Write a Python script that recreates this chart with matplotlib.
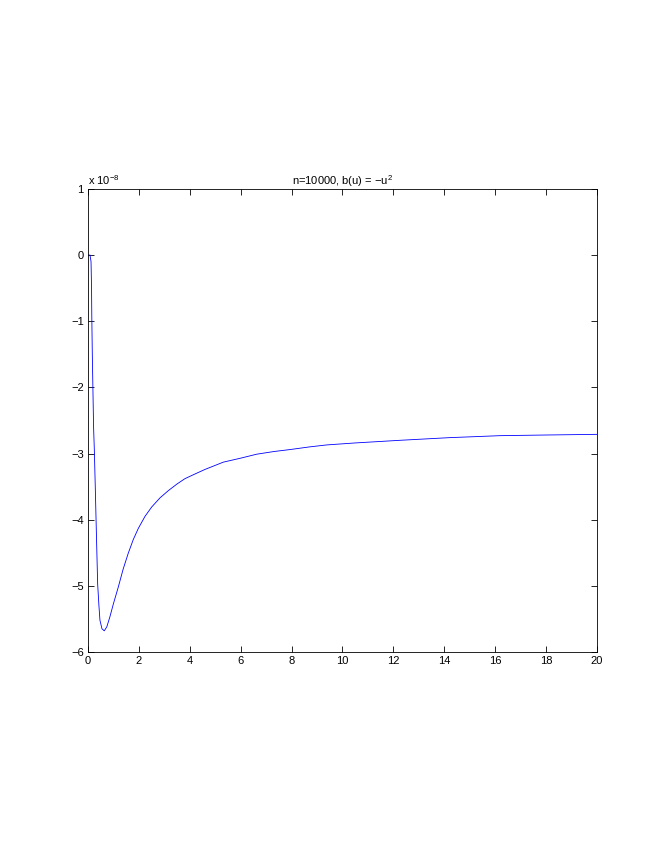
#!/usr/bin/env python3
# -*- coding: utf-8 -*-

import matplotlib
matplotlib.use("Agg")
from matplotlib import pyplot as plt

# curve (y in units of 1e-8)
U = [0, 0.08, 0.12, 0.14, 0.15, 0.17, 0.19, 0.22, 0.25, 0.29, 0.33, 0.38,
     0.43, 0.47, 0.55, 0.64, 0.74, 0.86, 1.0, 1.19, 1.38, 1.58, 1.78, 1.98,
     2.24, 2.50, 2.83, 3.16, 3.5, 3.81, 4.2, 4.60, 5.32, 6.0, 6.63, 7.3,
     7.94, 8.7, 9.38, 10.5, 12.26, 14.2, 16.19, 18, 20]
VAL = [0, 0, -0.1, -0.5, -0.93, -1.5, -1.94, -2.6, -2.95, -3.56, -4.2, -4.97,
       -5.3, -5.52, -5.65, -5.68, -5.62, -5.47, -5.27, -5.02, -4.75, -4.51,
       -4.30, -4.13, -3.95, -3.81, -3.67, -3.56, -3.46, -3.38, -3.31, -3.24,
       -3.13, -3.07, -3.01, -2.97, -2.94, -2.90, -2.87, -2.84, -2.80, -2.76,
       -2.73, -2.72, -2.71]

XTICKS = list(range(0, 21, 2))
YTICKS = list(range(-6, 2))
TITLE = "n=10000, b(u) = \u2212u$^2$"


def main():
    plt.rcParams['font.family'] = ['Liberation Sans', 'DejaVu Sans']
    plt.rcParams['mathtext.fontset'] = 'custom'
    plt.rcParams['mathtext.rm'] = 'Liberation Sans'

    fig = plt.figure(figsize=(6.64, 8.6), dpi=100)
    ax = fig.add_axes([0.1325, 0.2419, 0.7666, 0.5384])

    ax.plot(U, VAL, color=(0, 0, 1), linewidth=0.6)

    ax.set_xlim(0, 20)
    ax.set_ylim(-6, 1)
    ax.set_xticks(XTICKS)
    ax.set_yticks(YTICKS)
    ax.set_yticklabels([str(t).replace("-", "\u2212") for t in YTICKS])
    ax.tick_params(direction='in', top=True, right=True, length=4,
                   width=0.6, labelsize=8, pad=3)
    for s in ax.spines.values():
        s.set_linewidth(0.6)

    ax.set_title(TITLE, fontsize=8, pad=3)
    ax.text(0.0, 1.005, "x 10$^{\u22128}$", transform=ax.transAxes,
            fontsize=8, ha='left', va='bottom')

    fig.savefig("out.png", dpi=100)
    plt.close(fig)


if __name__ == "__main__":
    main()
